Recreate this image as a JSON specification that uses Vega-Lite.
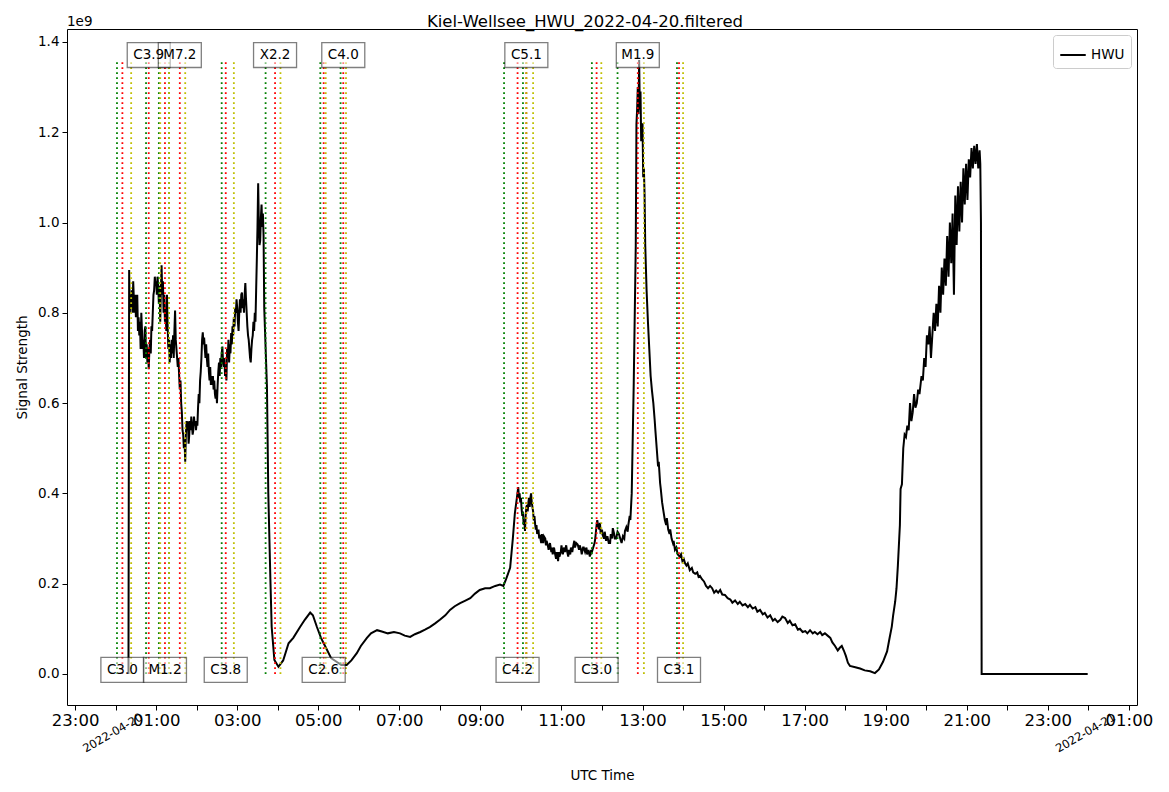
{
  "$schema": "https://vega.github.io/schema/vega-lite/v6.json",
  "width": 1070,
  "height": 676,
  "autosize": {"type": "none"},
  "padding": {"left": 67, "top": 29, "right": 32, "bottom": 87},
  "background": "white",
  "config": {
    "font": "DejaVu Sans",
    "view": {"stroke": "black", "strokeWidth": 1},
    "axis": {"grid": false, "domain": false, "tickColor": "black", "labelColor": "black", "titleColor": "black", "tickSize": 5, "titleFontWeight": "normal"},
    "legend": {"orient": "top-right", "offset": 6, "strokeColor": "#cccccc", "fillColor": "white", "padding": 6, "cornerRadius": 3, "labelFontSize": 13.5, "labelColor": "black", "symbolType": "stroke", "symbolStrokeWidth": 2, "symbolSize": 650, "title": null}
  },
  "resolve": {"axis": {"x": "independent", "y": "independent"}},
  "datasets": {
    "signal": [
      {"time": "2022-04-20T00:19Z", "value": 0},
      {"time": "2022-04-20T00:20Z", "value": 0.895},
      {"time": "2022-04-20T00:21Z", "value": 0.80},
      {"time": "2022-04-20T00:22Z", "value": 0.84},
      {"time": "2022-04-20T00:23Z", "value": 0.81},
      {"time": "2022-04-20T00:24Z", "value": 0.85},
      {"time": "2022-04-20T00:25Z", "value": 0.80},
      {"time": "2022-04-20T00:26Z", "value": 0.87},
      {"time": "2022-04-20T00:27Z", "value": 0.83},
      {"time": "2022-04-20T00:28Z", "value": 0.80},
      {"time": "2022-04-20T00:29Z", "value": 0.84},
      {"time": "2022-04-20T00:30Z", "value": 0.79},
      {"time": "2022-04-20T00:31Z", "value": 0.82},
      {"time": "2022-04-20T00:32Z", "value": 0.84},
      {"time": "2022-04-20T00:33Z", "value": 0.76},
      {"time": "2022-04-20T00:34Z", "value": 0.79},
      {"time": "2022-04-20T00:35Z", "value": 0.75},
      {"time": "2022-04-20T00:36Z", "value": 0.78},
      {"time": "2022-04-20T00:37Z", "value": 0.72},
      {"time": "2022-04-20T00:38Z", "value": 0.80},
      {"time": "2022-04-20T00:39Z", "value": 0.76},
      {"time": "2022-04-20T00:40Z", "value": 0.72},
      {"time": "2022-04-20T00:41Z", "value": 0.74},
      {"time": "2022-04-20T00:42Z", "value": 0.70},
      {"time": "2022-04-20T00:43Z", "value": 0.76},
      {"time": "2022-04-20T00:44Z", "value": 0.77},
      {"time": "2022-04-20T00:45Z", "value": 0.70},
      {"time": "2022-04-20T00:46Z", "value": 0.73},
      {"time": "2022-04-20T00:47Z", "value": 0.69},
      {"time": "2022-04-20T00:48Z", "value": 0.72},
      {"time": "2022-04-20T00:49Z", "value": 0.675},
      {"time": "2022-04-20T00:50Z", "value": 0.72},
      {"time": "2022-04-20T00:51Z", "value": 0.74},
      {"time": "2022-04-20T00:52Z", "value": 0.71},
      {"time": "2022-04-20T00:53Z", "value": 0.77},
      {"time": "2022-04-20T00:54Z", "value": 0.76},
      {"time": "2022-04-20T00:55Z", "value": 0.80},
      {"time": "2022-04-20T00:56Z", "value": 0.84},
      {"time": "2022-04-20T00:57Z", "value": 0.85},
      {"time": "2022-04-20T00:58Z", "value": 0.88},
      {"time": "2022-04-20T00:59Z", "value": 0.86},
      {"time": "2022-04-20T01:00Z", "value": 0.87},
      {"time": "2022-04-20T01:01Z", "value": 0.84},
      {"time": "2022-04-20T01:02Z", "value": 0.88},
      {"time": "2022-04-20T01:03Z", "value": 0.86},
      {"time": "2022-04-20T01:04Z", "value": 0.82},
      {"time": "2022-04-20T01:05Z", "value": 0.86},
      {"time": "2022-04-20T01:06Z", "value": 0.78},
      {"time": "2022-04-20T01:07Z", "value": 0.85},
      {"time": "2022-04-20T01:08Z", "value": 0.905},
      {"time": "2022-04-20T01:09Z", "value": 0.84},
      {"time": "2022-04-20T01:10Z", "value": 0.87},
      {"time": "2022-04-20T01:11Z", "value": 0.80},
      {"time": "2022-04-20T01:12Z", "value": 0.84},
      {"time": "2022-04-20T01:13Z", "value": 0.78},
      {"time": "2022-04-20T01:14Z", "value": 0.81},
      {"time": "2022-04-20T01:15Z", "value": 0.76},
      {"time": "2022-04-20T01:16Z", "value": 0.84},
      {"time": "2022-04-20T01:17Z", "value": 0.77},
      {"time": "2022-04-20T01:18Z", "value": 0.72},
      {"time": "2022-04-20T01:19Z", "value": 0.74},
      {"time": "2022-04-20T01:20Z", "value": 0.69},
      {"time": "2022-04-20T01:21Z", "value": 0.73},
      {"time": "2022-04-20T01:22Z", "value": 0.70},
      {"time": "2022-04-20T01:23Z", "value": 0.74},
      {"time": "2022-04-20T01:24Z", "value": 0.71},
      {"time": "2022-04-20T01:25Z", "value": 0.75},
      {"time": "2022-04-20T01:26Z", "value": 0.70},
      {"time": "2022-04-20T01:27Z", "value": 0.76},
      {"time": "2022-04-20T01:28Z", "value": 0.805},
      {"time": "2022-04-20T01:29Z", "value": 0.74},
      {"time": "2022-04-20T01:30Z", "value": 0.72},
      {"time": "2022-04-20T01:31Z", "value": 0.70},
      {"time": "2022-04-20T01:32Z", "value": 0.68},
      {"time": "2022-04-20T01:33Z", "value": 0.70},
      {"time": "2022-04-20T01:34Z", "value": 0.66},
      {"time": "2022-04-20T01:35Z", "value": 0.63},
      {"time": "2022-04-20T01:36Z", "value": 0.65},
      {"time": "2022-04-20T01:37Z", "value": 0.60},
      {"time": "2022-04-20T01:38Z", "value": 0.58},
      {"time": "2022-04-20T01:39Z", "value": 0.54},
      {"time": "2022-04-20T01:40Z", "value": 0.53},
      {"time": "2022-04-20T01:41Z", "value": 0.50},
      {"time": "2022-04-20T01:42Z", "value": 0.52},
      {"time": "2022-04-20T01:43Z", "value": 0.47},
      {"time": "2022-04-20T01:44Z", "value": 0.53},
      {"time": "2022-04-20T01:45Z", "value": 0.56},
      {"time": "2022-04-20T01:46Z", "value": 0.54},
      {"time": "2022-04-20T01:47Z", "value": 0.56},
      {"time": "2022-04-20T01:48Z", "value": 0.51},
      {"time": "2022-04-20T01:49Z", "value": 0.53},
      {"time": "2022-04-20T01:50Z", "value": 0.56},
      {"time": "2022-04-20T01:51Z", "value": 0.54},
      {"time": "2022-04-20T01:52Z", "value": 0.57},
      {"time": "2022-04-20T01:53Z", "value": 0.55},
      {"time": "2022-04-20T01:54Z", "value": 0.53},
      {"time": "2022-04-20T01:55Z", "value": 0.54},
      {"time": "2022-04-20T01:56Z", "value": 0.57},
      {"time": "2022-04-20T01:57Z", "value": 0.55},
      {"time": "2022-04-20T01:58Z", "value": 0.56},
      {"time": "2022-04-20T01:59Z", "value": 0.54},
      {"time": "2022-04-20T02:00Z", "value": 0.56},
      {"time": "2022-04-20T02:01Z", "value": 0.55},
      {"time": "2022-04-20T02:02Z", "value": 0.59},
      {"time": "2022-04-20T02:03Z", "value": 0.62},
      {"time": "2022-04-20T02:04Z", "value": 0.60},
      {"time": "2022-04-20T02:05Z", "value": 0.65},
      {"time": "2022-04-20T02:06Z", "value": 0.67},
      {"time": "2022-04-20T02:07Z", "value": 0.70},
      {"time": "2022-04-20T02:08Z", "value": 0.74},
      {"time": "2022-04-20T02:09Z", "value": 0.757},
      {"time": "2022-04-20T02:10Z", "value": 0.73},
      {"time": "2022-04-20T02:11Z", "value": 0.745},
      {"time": "2022-04-20T02:12Z", "value": 0.72},
      {"time": "2022-04-20T02:13Z", "value": 0.70},
      {"time": "2022-04-20T02:14Z", "value": 0.73},
      {"time": "2022-04-20T02:15Z", "value": 0.70},
      {"time": "2022-04-20T02:16Z", "value": 0.68},
      {"time": "2022-04-20T02:17Z", "value": 0.71},
      {"time": "2022-04-20T02:18Z", "value": 0.67},
      {"time": "2022-04-20T02:19Z", "value": 0.65},
      {"time": "2022-04-20T02:20Z", "value": 0.68},
      {"time": "2022-04-20T02:21Z", "value": 0.64},
      {"time": "2022-04-20T02:22Z", "value": 0.66},
      {"time": "2022-04-20T02:23Z", "value": 0.64},
      {"time": "2022-04-20T02:24Z", "value": 0.66},
      {"time": "2022-04-20T02:25Z", "value": 0.63},
      {"time": "2022-04-20T02:26Z", "value": 0.65},
      {"time": "2022-04-20T02:27Z", "value": 0.62},
      {"time": "2022-04-20T02:28Z", "value": 0.61},
      {"time": "2022-04-20T02:29Z", "value": 0.63},
      {"time": "2022-04-20T02:30Z", "value": 0.60},
      {"time": "2022-04-20T02:31Z", "value": 0.64},
      {"time": "2022-04-20T02:32Z", "value": 0.67},
      {"time": "2022-04-20T02:33Z", "value": 0.69},
      {"time": "2022-04-20T02:34Z", "value": 0.66},
      {"time": "2022-04-20T02:35Z", "value": 0.70},
      {"time": "2022-04-20T02:36Z", "value": 0.68},
      {"time": "2022-04-20T02:37Z", "value": 0.71},
      {"time": "2022-04-20T02:38Z", "value": 0.725},
      {"time": "2022-04-20T02:39Z", "value": 0.69},
      {"time": "2022-04-20T02:40Z", "value": 0.68},
      {"time": "2022-04-20T02:41Z", "value": 0.70},
      {"time": "2022-04-20T02:42Z", "value": 0.66},
      {"time": "2022-04-20T02:43Z", "value": 0.68},
      {"time": "2022-04-20T02:44Z", "value": 0.65},
      {"time": "2022-04-20T02:45Z", "value": 0.72},
      {"time": "2022-04-20T02:46Z", "value": 0.70},
      {"time": "2022-04-20T02:47Z", "value": 0.74},
      {"time": "2022-04-20T02:48Z", "value": 0.69},
      {"time": "2022-04-20T02:49Z", "value": 0.73},
      {"time": "2022-04-20T02:50Z", "value": 0.71},
      {"time": "2022-04-20T02:51Z", "value": 0.755},
      {"time": "2022-04-20T02:52Z", "value": 0.73},
      {"time": "2022-04-20T02:53Z", "value": 0.77},
      {"time": "2022-04-20T02:54Z", "value": 0.75},
      {"time": "2022-04-20T02:55Z", "value": 0.79},
      {"time": "2022-04-20T02:56Z", "value": 0.77},
      {"time": "2022-04-20T02:57Z", "value": 0.81},
      {"time": "2022-04-20T02:58Z", "value": 0.80},
      {"time": "2022-04-20T02:59Z", "value": 0.83},
      {"time": "2022-04-20T03:00Z", "value": 0.81},
      {"time": "2022-04-20T03:01Z", "value": 0.78},
      {"time": "2022-04-20T03:02Z", "value": 0.76},
      {"time": "2022-04-20T03:03Z", "value": 0.80},
      {"time": "2022-04-20T03:04Z", "value": 0.83},
      {"time": "2022-04-20T03:05Z", "value": 0.80},
      {"time": "2022-04-20T03:06Z", "value": 0.84},
      {"time": "2022-04-20T03:07Z", "value": 0.845},
      {"time": "2022-04-20T03:08Z", "value": 0.81},
      {"time": "2022-04-20T03:09Z", "value": 0.83},
      {"time": "2022-04-20T03:10Z", "value": 0.80},
      {"time": "2022-04-20T03:11Z", "value": 0.84},
      {"time": "2022-04-20T03:12Z", "value": 0.866},
      {"time": "2022-04-20T03:13Z", "value": 0.83},
      {"time": "2022-04-20T03:14Z", "value": 0.80},
      {"time": "2022-04-20T03:15Z", "value": 0.77},
      {"time": "2022-04-20T03:16Z", "value": 0.75},
      {"time": "2022-04-20T03:17Z", "value": 0.74},
      {"time": "2022-04-20T03:18Z", "value": 0.72},
      {"time": "2022-04-20T03:19Z", "value": 0.70},
      {"time": "2022-04-20T03:20Z", "value": 0.69},
      {"time": "2022-04-20T03:21Z", "value": 0.72},
      {"time": "2022-04-20T03:22Z", "value": 0.74},
      {"time": "2022-04-20T03:23Z", "value": 0.75},
      {"time": "2022-04-20T03:24Z", "value": 0.78},
      {"time": "2022-04-20T03:25Z", "value": 0.76},
      {"time": "2022-04-20T03:26Z", "value": 0.80},
      {"time": "2022-04-20T03:27Z", "value": 0.78},
      {"time": "2022-04-20T03:28Z", "value": 0.85},
      {"time": "2022-04-20T03:29Z", "value": 0.917},
      {"time": "2022-04-20T03:30Z", "value": 0.99},
      {"time": "2022-04-20T03:31Z", "value": 1.087},
      {"time": "2022-04-20T03:32Z", "value": 1.00},
      {"time": "2022-04-20T03:33Z", "value": 0.95},
      {"time": "2022-04-20T03:34Z", "value": 0.96},
      {"time": "2022-04-20T03:35Z", "value": 1.01},
      {"time": "2022-04-20T03:36Z", "value": 1.04},
      {"time": "2022-04-20T03:37Z", "value": 0.99},
      {"time": "2022-04-20T03:38Z", "value": 1.02},
      {"time": "2022-04-20T03:39Z", "value": 0.97},
      {"time": "2022-04-20T03:40Z", "value": 0.81},
      {"time": "2022-04-20T03:44Z", "value": 0.636},
      {"time": "2022-04-20T03:46Z", "value": 0.40},
      {"time": "2022-04-20T03:49Z", "value": 0.215},
      {"time": "2022-04-20T03:51Z", "value": 0.104},
      {"time": "2022-04-20T03:55Z", "value": 0.031},
      {"time": "2022-04-20T04:01Z", "value": 0.016},
      {"time": "2022-04-20T04:08Z", "value": 0.03},
      {"time": "2022-04-20T04:16Z", "value": 0.068},
      {"time": "2022-04-20T04:23Z", "value": 0.08},
      {"time": "2022-04-20T04:33Z", "value": 0.104},
      {"time": "2022-04-20T04:40Z", "value": 0.12},
      {"time": "2022-04-20T04:48Z", "value": 0.136},
      {"time": "2022-04-20T04:52Z", "value": 0.13},
      {"time": "2022-04-20T04:58Z", "value": 0.104},
      {"time": "2022-04-20T05:04Z", "value": 0.08},
      {"time": "2022-04-20T05:13Z", "value": 0.053},
      {"time": "2022-04-20T05:19Z", "value": 0.035},
      {"time": "2022-04-20T05:27Z", "value": 0.027},
      {"time": "2022-04-20T05:34Z", "value": 0.02},
      {"time": "2022-04-20T05:42Z", "value": 0.02},
      {"time": "2022-04-20T05:49Z", "value": 0.03},
      {"time": "2022-04-20T05:57Z", "value": 0.046},
      {"time": "2022-04-20T06:03Z", "value": 0.062},
      {"time": "2022-04-20T06:12Z", "value": 0.08},
      {"time": "2022-04-20T06:18Z", "value": 0.09},
      {"time": "2022-04-20T06:27Z", "value": 0.097},
      {"time": "2022-04-20T06:34Z", "value": 0.094},
      {"time": "2022-04-20T06:43Z", "value": 0.09},
      {"time": "2022-04-20T06:52Z", "value": 0.093},
      {"time": "2022-04-20T07:01Z", "value": 0.09},
      {"time": "2022-04-20T07:08Z", "value": 0.085},
      {"time": "2022-04-20T07:16Z", "value": 0.082},
      {"time": "2022-04-20T07:23Z", "value": 0.088},
      {"time": "2022-04-20T07:31Z", "value": 0.093},
      {"time": "2022-04-20T07:38Z", "value": 0.098},
      {"time": "2022-04-20T07:45Z", "value": 0.104},
      {"time": "2022-04-20T07:53Z", "value": 0.112},
      {"time": "2022-04-20T08:00Z", "value": 0.12},
      {"time": "2022-04-20T08:08Z", "value": 0.13},
      {"time": "2022-04-20T08:15Z", "value": 0.142},
      {"time": "2022-04-20T08:22Z", "value": 0.15},
      {"time": "2022-04-20T08:30Z", "value": 0.157},
      {"time": "2022-04-20T08:37Z", "value": 0.162},
      {"time": "2022-04-20T08:45Z", "value": 0.168},
      {"time": "2022-04-20T08:52Z", "value": 0.178},
      {"time": "2022-04-20T08:59Z", "value": 0.186},
      {"time": "2022-04-20T09:07Z", "value": 0.19},
      {"time": "2022-04-20T09:14Z", "value": 0.19},
      {"time": "2022-04-20T09:22Z", "value": 0.195},
      {"time": "2022-04-20T09:29Z", "value": 0.198},
      {"time": "2022-04-20T09:34Z", "value": 0.195},
      {"time": "2022-04-20T09:38Z", "value": 0.21},
      {"time": "2022-04-20T09:44Z", "value": 0.235},
      {"time": "2022-04-20T09:48Z", "value": 0.30},
      {"time": "2022-04-20T09:51Z", "value": 0.356},
      {"time": "2022-04-20T09:54Z", "value": 0.39},
      {"time": "2022-04-20T09:56Z", "value": 0.414},
      {"time": "2022-04-20T09:57Z", "value": 0.39},
      {"time": "2022-04-20T09:58Z", "value": 0.40},
      {"time": "2022-04-20T09:59Z", "value": 0.38},
      {"time": "2022-04-20T10:00Z", "value": 0.39},
      {"time": "2022-04-20T10:01Z", "value": 0.365},
      {"time": "2022-04-20T10:02Z", "value": 0.35},
      {"time": "2022-04-20T10:03Z", "value": 0.36},
      {"time": "2022-04-20T10:04Z", "value": 0.33},
      {"time": "2022-04-20T10:05Z", "value": 0.34},
      {"time": "2022-04-20T10:06Z", "value": 0.317},
      {"time": "2022-04-20T10:07Z", "value": 0.35},
      {"time": "2022-04-20T10:08Z", "value": 0.37},
      {"time": "2022-04-20T10:09Z", "value": 0.374},
      {"time": "2022-04-20T10:10Z", "value": 0.36},
      {"time": "2022-04-20T10:11Z", "value": 0.38},
      {"time": "2022-04-20T10:12Z", "value": 0.39},
      {"time": "2022-04-20T10:13Z", "value": 0.37},
      {"time": "2022-04-20T10:14Z", "value": 0.39},
      {"time": "2022-04-20T10:15Z", "value": 0.40},
      {"time": "2022-04-20T10:16Z", "value": 0.38},
      {"time": "2022-04-20T10:17Z", "value": 0.37},
      {"time": "2022-04-20T10:18Z", "value": 0.36},
      {"time": "2022-04-20T10:19Z", "value": 0.34},
      {"time": "2022-04-20T10:20Z", "value": 0.35},
      {"time": "2022-04-20T10:21Z", "value": 0.332},
      {"time": "2022-04-20T10:22Z", "value": 0.32},
      {"time": "2022-04-20T10:23Z", "value": 0.33},
      {"time": "2022-04-20T10:24Z", "value": 0.31},
      {"time": "2022-04-20T10:26Z", "value": 0.32},
      {"time": "2022-04-20T10:27Z", "value": 0.30},
      {"time": "2022-04-20T10:28Z", "value": 0.308},
      {"time": "2022-04-20T10:30Z", "value": 0.29},
      {"time": "2022-04-20T10:31Z", "value": 0.31},
      {"time": "2022-04-20T10:33Z", "value": 0.29},
      {"time": "2022-04-20T10:34Z", "value": 0.305},
      {"time": "2022-04-20T10:36Z", "value": 0.30},
      {"time": "2022-04-20T10:37Z", "value": 0.285},
      {"time": "2022-04-20T10:38Z", "value": 0.295},
      {"time": "2022-04-20T10:40Z", "value": 0.283},
      {"time": "2022-04-20T10:41Z", "value": 0.275},
      {"time": "2022-04-20T10:43Z", "value": 0.29},
      {"time": "2022-04-20T10:45Z", "value": 0.27},
      {"time": "2022-04-20T10:46Z", "value": 0.28},
      {"time": "2022-04-20T10:47Z", "value": 0.265},
      {"time": "2022-04-20T10:49Z", "value": 0.28},
      {"time": "2022-04-20T10:50Z", "value": 0.27},
      {"time": "2022-04-20T10:52Z", "value": 0.255},
      {"time": "2022-04-20T10:53Z", "value": 0.27},
      {"time": "2022-04-20T10:55Z", "value": 0.25},
      {"time": "2022-04-20T10:56Z", "value": 0.27},
      {"time": "2022-04-20T10:57Z", "value": 0.26},
      {"time": "2022-04-20T10:59Z", "value": 0.27},
      {"time": "2022-04-20T11:00Z", "value": 0.285},
      {"time": "2022-04-20T11:02Z", "value": 0.265},
      {"time": "2022-04-20T11:04Z", "value": 0.28},
      {"time": "2022-04-20T11:05Z", "value": 0.27},
      {"time": "2022-04-20T11:07Z", "value": 0.285},
      {"time": "2022-04-20T11:08Z", "value": 0.274},
      {"time": "2022-04-20T11:10Z", "value": 0.26},
      {"time": "2022-04-20T11:11Z", "value": 0.275},
      {"time": "2022-04-20T11:13Z", "value": 0.265},
      {"time": "2022-04-20T11:14Z", "value": 0.28},
      {"time": "2022-04-20T11:16Z", "value": 0.27},
      {"time": "2022-04-20T11:17Z", "value": 0.28},
      {"time": "2022-04-20T11:19Z", "value": 0.295},
      {"time": "2022-04-20T11:20Z", "value": 0.28},
      {"time": "2022-04-20T11:22Z", "value": 0.29},
      {"time": "2022-04-20T11:24Z", "value": 0.287},
      {"time": "2022-04-20T11:26Z", "value": 0.275},
      {"time": "2022-04-20T11:27Z", "value": 0.285},
      {"time": "2022-04-20T11:29Z", "value": 0.275},
      {"time": "2022-04-20T11:30Z", "value": 0.265},
      {"time": "2022-04-20T11:32Z", "value": 0.28},
      {"time": "2022-04-20T11:33Z", "value": 0.28},
      {"time": "2022-04-20T11:35Z", "value": 0.27},
      {"time": "2022-04-20T11:37Z", "value": 0.28},
      {"time": "2022-04-20T11:38Z", "value": 0.265},
      {"time": "2022-04-20T11:40Z", "value": 0.275},
      {"time": "2022-04-20T11:42Z", "value": 0.26},
      {"time": "2022-04-20T11:44Z", "value": 0.275},
      {"time": "2022-04-20T11:45Z", "value": 0.27},
      {"time": "2022-04-20T11:47Z", "value": 0.28},
      {"time": "2022-04-20T11:49Z", "value": 0.29},
      {"time": "2022-04-20T11:50Z", "value": 0.30},
      {"time": "2022-04-20T11:52Z", "value": 0.33},
      {"time": "2022-04-20T11:53Z", "value": 0.341},
      {"time": "2022-04-20T11:54Z", "value": 0.33},
      {"time": "2022-04-20T11:56Z", "value": 0.32},
      {"time": "2022-04-20T11:57Z", "value": 0.335},
      {"time": "2022-04-20T11:58Z", "value": 0.31},
      {"time": "2022-04-20T12:00Z", "value": 0.32},
      {"time": "2022-04-20T12:01Z", "value": 0.308},
      {"time": "2022-04-20T12:03Z", "value": 0.30},
      {"time": "2022-04-20T12:04Z", "value": 0.315},
      {"time": "2022-04-20T12:06Z", "value": 0.295},
      {"time": "2022-04-20T12:08Z", "value": 0.305},
      {"time": "2022-04-20T12:10Z", "value": 0.29},
      {"time": "2022-04-20T12:12Z", "value": 0.29},
      {"time": "2022-04-20T12:13Z", "value": 0.31},
      {"time": "2022-04-20T12:15Z", "value": 0.30},
      {"time": "2022-04-20T12:16Z", "value": 0.323},
      {"time": "2022-04-20T12:18Z", "value": 0.31},
      {"time": "2022-04-20T12:19Z", "value": 0.30},
      {"time": "2022-04-20T12:21Z", "value": 0.30},
      {"time": "2022-04-20T12:23Z", "value": 0.315},
      {"time": "2022-04-20T12:25Z", "value": 0.31},
      {"time": "2022-04-20T12:27Z", "value": 0.30},
      {"time": "2022-04-20T12:29Z", "value": 0.29},
      {"time": "2022-04-20T12:31Z", "value": 0.305},
      {"time": "2022-04-20T12:33Z", "value": 0.30},
      {"time": "2022-04-20T12:34Z", "value": 0.317},
      {"time": "2022-04-20T12:36Z", "value": 0.325},
      {"time": "2022-04-20T12:38Z", "value": 0.315},
      {"time": "2022-04-20T12:39Z", "value": 0.33},
      {"time": "2022-04-20T12:41Z", "value": 0.35},
      {"time": "2022-04-20T12:42Z", "value": 0.341},
      {"time": "2022-04-20T12:44Z", "value": 0.40},
      {"time": "2022-04-20T12:47Z", "value": 0.645},
      {"time": "2022-04-20T12:50Z", "value": 0.95},
      {"time": "2022-04-20T12:51Z", "value": 1.218},
      {"time": "2022-04-20T12:52Z", "value": 1.25},
      {"time": "2022-04-20T12:53Z", "value": 1.30},
      {"time": "2022-04-20T12:54Z", "value": 1.24},
      {"time": "2022-04-20T12:55Z", "value": 1.36},
      {"time": "2022-04-20T12:56Z", "value": 1.25},
      {"time": "2022-04-20T12:57Z", "value": 1.29},
      {"time": "2022-04-20T12:58Z", "value": 1.18},
      {"time": "2022-04-20T13:00Z", "value": 1.22},
      {"time": "2022-04-20T13:01Z", "value": 1.10},
      {"time": "2022-04-20T13:02Z", "value": 1.12},
      {"time": "2022-04-20T13:03Z", "value": 1.063},
      {"time": "2022-04-20T13:04Z", "value": 0.95},
      {"time": "2022-04-20T13:06Z", "value": 0.85},
      {"time": "2022-04-20T13:08Z", "value": 0.78},
      {"time": "2022-04-20T13:10Z", "value": 0.72},
      {"time": "2022-04-20T13:12Z", "value": 0.66},
      {"time": "2022-04-20T13:14Z", "value": 0.627},
      {"time": "2022-04-20T13:16Z", "value": 0.60},
      {"time": "2022-04-20T13:18Z", "value": 0.562},
      {"time": "2022-04-20T13:19Z", "value": 0.54},
      {"time": "2022-04-20T13:21Z", "value": 0.50},
      {"time": "2022-04-20T13:23Z", "value": 0.46},
      {"time": "2022-04-20T13:24Z", "value": 0.47},
      {"time": "2022-04-20T13:26Z", "value": 0.423},
      {"time": "2022-04-20T13:27Z", "value": 0.41},
      {"time": "2022-04-20T13:29Z", "value": 0.38},
      {"time": "2022-04-20T13:31Z", "value": 0.36},
      {"time": "2022-04-20T13:33Z", "value": 0.341},
      {"time": "2022-04-20T13:35Z", "value": 0.33},
      {"time": "2022-04-20T13:36Z", "value": 0.345},
      {"time": "2022-04-20T13:38Z", "value": 0.32},
      {"time": "2022-04-20T13:40Z", "value": 0.31},
      {"time": "2022-04-20T13:41Z", "value": 0.32},
      {"time": "2022-04-20T13:43Z", "value": 0.30},
      {"time": "2022-04-20T13:45Z", "value": 0.29},
      {"time": "2022-04-20T13:46Z", "value": 0.295},
      {"time": "2022-04-20T13:48Z", "value": 0.275},
      {"time": "2022-04-20T13:50Z", "value": 0.28},
      {"time": "2022-04-20T13:52Z", "value": 0.265},
      {"time": "2022-04-20T13:55Z", "value": 0.26},
      {"time": "2022-04-20T13:57Z", "value": 0.265},
      {"time": "2022-04-20T13:59Z", "value": 0.25},
      {"time": "2022-04-20T14:01Z", "value": 0.255},
      {"time": "2022-04-20T14:03Z", "value": 0.245},
      {"time": "2022-04-20T14:05Z", "value": 0.24},
      {"time": "2022-04-20T14:07Z", "value": 0.245},
      {"time": "2022-04-20T14:10Z", "value": 0.23},
      {"time": "2022-04-20T14:13Z", "value": 0.235},
      {"time": "2022-04-20T14:15Z", "value": 0.225},
      {"time": "2022-04-20T14:18Z", "value": 0.222},
      {"time": "2022-04-20T14:21Z", "value": 0.225},
      {"time": "2022-04-20T14:23Z", "value": 0.215},
      {"time": "2022-04-20T14:25Z", "value": 0.217},
      {"time": "2022-04-20T14:28Z", "value": 0.21},
      {"time": "2022-04-20T14:31Z", "value": 0.205},
      {"time": "2022-04-20T14:34Z", "value": 0.195},
      {"time": "2022-04-20T14:37Z", "value": 0.19},
      {"time": "2022-04-20T14:40Z", "value": 0.195},
      {"time": "2022-04-20T14:43Z", "value": 0.19},
      {"time": "2022-04-20T14:46Z", "value": 0.18},
      {"time": "2022-04-20T14:49Z", "value": 0.185},
      {"time": "2022-04-20T14:52Z", "value": 0.18},
      {"time": "2022-04-20T14:55Z", "value": 0.186},
      {"time": "2022-04-20T14:58Z", "value": 0.176},
      {"time": "2022-04-20T15:02Z", "value": 0.175},
      {"time": "2022-04-20T15:06Z", "value": 0.168},
      {"time": "2022-04-20T15:10Z", "value": 0.165},
      {"time": "2022-04-20T15:13Z", "value": 0.158},
      {"time": "2022-04-20T15:17Z", "value": 0.163},
      {"time": "2022-04-20T15:21Z", "value": 0.155},
      {"time": "2022-04-20T15:24Z", "value": 0.16},
      {"time": "2022-04-20T15:28Z", "value": 0.152},
      {"time": "2022-04-20T15:32Z", "value": 0.155},
      {"time": "2022-04-20T15:36Z", "value": 0.148},
      {"time": "2022-04-20T15:39Z", "value": 0.153},
      {"time": "2022-04-20T15:43Z", "value": 0.145},
      {"time": "2022-04-20T15:47Z", "value": 0.148},
      {"time": "2022-04-20T15:50Z", "value": 0.138},
      {"time": "2022-04-20T15:54Z", "value": 0.142},
      {"time": "2022-04-20T15:58Z", "value": 0.132},
      {"time": "2022-04-20T16:01Z", "value": 0.135},
      {"time": "2022-04-20T16:05Z", "value": 0.125},
      {"time": "2022-04-20T16:09Z", "value": 0.13},
      {"time": "2022-04-20T16:13Z", "value": 0.118},
      {"time": "2022-04-20T16:16Z", "value": 0.122},
      {"time": "2022-04-20T16:20Z", "value": 0.115},
      {"time": "2022-04-20T16:24Z", "value": 0.12},
      {"time": "2022-04-20T16:27Z", "value": 0.127},
      {"time": "2022-04-20T16:31Z", "value": 0.124},
      {"time": "2022-04-20T16:35Z", "value": 0.113},
      {"time": "2022-04-20T16:38Z", "value": 0.118},
      {"time": "2022-04-20T16:42Z", "value": 0.108},
      {"time": "2022-04-20T16:46Z", "value": 0.11},
      {"time": "2022-04-20T16:50Z", "value": 0.098},
      {"time": "2022-04-20T16:53Z", "value": 0.10},
      {"time": "2022-04-20T16:57Z", "value": 0.093},
      {"time": "2022-04-20T17:01Z", "value": 0.095},
      {"time": "2022-04-20T17:04Z", "value": 0.09},
      {"time": "2022-04-20T17:08Z", "value": 0.097},
      {"time": "2022-04-20T17:12Z", "value": 0.09},
      {"time": "2022-04-20T17:15Z", "value": 0.093},
      {"time": "2022-04-20T17:19Z", "value": 0.088},
      {"time": "2022-04-20T17:23Z", "value": 0.093},
      {"time": "2022-04-20T17:26Z", "value": 0.086},
      {"time": "2022-04-20T17:30Z", "value": 0.09},
      {"time": "2022-04-20T17:34Z", "value": 0.085},
      {"time": "2022-04-20T17:38Z", "value": 0.08},
      {"time": "2022-04-20T17:41Z", "value": 0.07},
      {"time": "2022-04-20T17:45Z", "value": 0.062},
      {"time": "2022-04-20T17:49Z", "value": 0.052},
      {"time": "2022-04-20T17:52Z", "value": 0.058},
      {"time": "2022-04-20T17:55Z", "value": 0.062},
      {"time": "2022-04-20T17:58Z", "value": 0.052},
      {"time": "2022-04-20T18:01Z", "value": 0.04},
      {"time": "2022-04-20T18:04Z", "value": 0.025},
      {"time": "2022-04-20T18:07Z", "value": 0.018},
      {"time": "2022-04-20T18:15Z", "value": 0.015},
      {"time": "2022-04-20T18:22Z", "value": 0.012},
      {"time": "2022-04-20T18:29Z", "value": 0.008},
      {"time": "2022-04-20T18:37Z", "value": 0.006},
      {"time": "2022-04-20T18:44Z", "value": 0.002},
      {"time": "2022-04-20T18:50Z", "value": 0.01},
      {"time": "2022-04-20T18:56Z", "value": 0.027},
      {"time": "2022-04-20T19:02Z", "value": 0.05},
      {"time": "2022-04-20T19:06Z", "value": 0.082},
      {"time": "2022-04-20T19:09Z", "value": 0.105},
      {"time": "2022-04-20T19:11Z", "value": 0.13},
      {"time": "2022-04-20T19:14Z", "value": 0.16},
      {"time": "2022-04-20T19:16Z", "value": 0.19},
      {"time": "2022-04-20T19:18Z", "value": 0.24},
      {"time": "2022-04-20T19:20Z", "value": 0.30},
      {"time": "2022-04-20T19:21Z", "value": 0.33},
      {"time": "2022-04-20T19:22Z", "value": 0.41},
      {"time": "2022-04-20T19:24Z", "value": 0.42},
      {"time": "2022-04-20T19:26Z", "value": 0.50},
      {"time": "2022-04-20T19:28Z", "value": 0.53},
      {"time": "2022-04-20T19:30Z", "value": 0.525},
      {"time": "2022-04-20T19:32Z", "value": 0.55},
      {"time": "2022-04-20T19:34Z", "value": 0.54},
      {"time": "2022-04-20T19:36Z", "value": 0.60},
      {"time": "2022-04-20T19:38Z", "value": 0.56},
      {"time": "2022-04-20T19:40Z", "value": 0.58},
      {"time": "2022-04-20T19:42Z", "value": 0.62},
      {"time": "2022-04-20T19:44Z", "value": 0.59},
      {"time": "2022-04-20T19:46Z", "value": 0.60},
      {"time": "2022-04-20T19:48Z", "value": 0.63},
      {"time": "2022-04-20T19:50Z", "value": 0.62},
      {"time": "2022-04-20T19:53Z", "value": 0.66},
      {"time": "2022-04-20T19:55Z", "value": 0.65},
      {"time": "2022-04-20T19:57Z", "value": 0.70},
      {"time": "2022-04-20T19:59Z", "value": 0.68},
      {"time": "2022-04-20T20:01Z", "value": 0.75},
      {"time": "2022-04-20T20:03Z", "value": 0.73},
      {"time": "2022-04-20T20:05Z", "value": 0.77},
      {"time": "2022-04-20T20:07Z", "value": 0.70},
      {"time": "2022-04-20T20:09Z", "value": 0.75},
      {"time": "2022-04-20T20:11Z", "value": 0.80},
      {"time": "2022-04-20T20:13Z", "value": 0.76},
      {"time": "2022-04-20T20:15Z", "value": 0.82},
      {"time": "2022-04-20T20:17Z", "value": 0.77},
      {"time": "2022-04-20T20:19Z", "value": 0.86},
      {"time": "2022-04-20T20:21Z", "value": 0.80},
      {"time": "2022-04-20T20:23Z", "value": 0.90},
      {"time": "2022-04-20T20:25Z", "value": 0.84},
      {"time": "2022-04-20T20:27Z", "value": 0.92},
      {"time": "2022-04-20T20:29Z", "value": 0.86},
      {"time": "2022-04-20T20:31Z", "value": 0.97},
      {"time": "2022-04-20T20:33Z", "value": 0.88},
      {"time": "2022-04-20T20:35Z", "value": 1.00},
      {"time": "2022-04-20T20:37Z", "value": 0.91},
      {"time": "2022-04-20T20:39Z", "value": 1.02},
      {"time": "2022-04-20T20:41Z", "value": 0.84},
      {"time": "2022-04-20T20:43Z", "value": 1.06},
      {"time": "2022-04-20T20:45Z", "value": 0.95},
      {"time": "2022-04-20T20:47Z", "value": 1.08},
      {"time": "2022-04-20T20:49Z", "value": 0.98},
      {"time": "2022-04-20T20:51Z", "value": 1.09},
      {"time": "2022-04-20T20:53Z", "value": 1.00},
      {"time": "2022-04-20T20:55Z", "value": 1.12},
      {"time": "2022-04-20T20:57Z", "value": 1.04},
      {"time": "2022-04-20T20:59Z", "value": 1.13},
      {"time": "2022-04-20T21:01Z", "value": 1.05},
      {"time": "2022-04-20T21:03Z", "value": 1.14},
      {"time": "2022-04-20T21:05Z", "value": 1.10},
      {"time": "2022-04-20T21:07Z", "value": 1.165},
      {"time": "2022-04-20T21:09Z", "value": 1.12},
      {"time": "2022-04-20T21:11Z", "value": 1.17},
      {"time": "2022-04-20T21:13Z", "value": 1.13},
      {"time": "2022-04-20T21:15Z", "value": 1.174},
      {"time": "2022-04-20T21:17Z", "value": 1.12},
      {"time": "2022-04-20T21:19Z", "value": 1.16},
      {"time": "2022-04-20T21:20Z", "value": 1.13},
      {"time": "2022-04-20T21:21Z", "value": 1.0},
      {"time": "2022-04-20T21:22Z", "value": 0},
      {"time": "2022-04-20T23:59Z", "value": 0}
    ],
    "flares": [
      {"label": "C3.0", "start": "2022-04-20T00:02Z", "peak": "2022-04-20T00:10Z", "end": "2022-04-20T00:23Z", "pos": "bottom"},
      {"label": "C3.9", "start": "2022-04-20T00:45Z", "peak": "2022-04-20T00:49Z", "end": "2022-04-20T01:06Z", "pos": "top"},
      {"label": "M1.2", "start": "2022-04-20T01:04Z", "peak": "2022-04-20T01:13Z", "end": "2022-04-20T01:19Z", "pos": "bottom"},
      {"label": "M7.2", "start": "2022-04-20T01:19Z", "peak": "2022-04-20T01:35Z", "end": "2022-04-20T01:43Z", "pos": "top"},
      {"label": "C3.8", "start": "2022-04-20T02:37Z", "peak": "2022-04-20T02:43Z", "end": "2022-04-20T02:55Z", "pos": "bottom"},
      {"label": "X2.2", "start": "2022-04-20T03:42Z", "peak": "2022-04-20T03:56Z", "end": "2022-04-20T04:04Z", "pos": "top"},
      {"label": "C2.6", "start": "2022-04-20T05:03Z", "peak": "2022-04-20T05:08Z", "end": "2022-04-20T05:11Z", "pos": "bottom"},
      {"label": "C4.0", "start": "2022-04-20T05:33Z", "peak": "2022-04-20T05:37Z", "end": "2022-04-20T05:41Z", "pos": "top"},
      {"label": "C4.2", "start": "2022-04-20T09:35Z", "peak": "2022-04-20T09:55Z", "end": "2022-04-20T10:08Z", "pos": "bottom"},
      {"label": "C5.1", "start": "2022-04-20T10:03Z", "peak": "2022-04-20T10:08Z", "end": "2022-04-20T10:18Z", "pos": "top"},
      {"label": "C3.0", "start": "2022-04-20T11:45Z", "peak": "2022-04-20T11:52Z", "end": "2022-04-20T11:59Z", "pos": "bottom"},
      {"label": "M1.9", "start": "2022-04-20T12:23Z", "peak": "2022-04-20T12:53Z", "end": "2022-04-20T13:02Z", "pos": "top"},
      {"label": "C3.1", "start": "2022-04-20T13:51Z", "peak": "2022-04-20T13:54Z", "end": "2022-04-20T14:00Z", "pos": "bottom"}
    ]
  },
  "layer": [
    {
      "data": {"name": "signal"},
      "mark": {"type": "line", "strokeWidth": 2, "interpolate": "linear"},
      "encoding": {
        "x": {
          "field": "time", "type": "temporal",
          "scale": {"type": "utc", "domain": [1650408480000, 1650503520000], "nice": false},
          "axis": {
            "orient": "bottom",
            "values": [1650409200000, 1650412800000, 1650416400000, 1650420000000, 1650423600000, 1650427200000, 1650430800000, 1650434400000, 1650438000000, 1650441600000, 1650445200000, 1650448800000, 1650452400000, 1650456000000, 1650459600000, 1650463200000, 1650466800000, 1650470400000, 1650474000000, 1650477600000, 1650481200000, 1650484800000, 1650488400000, 1650492000000, 1650495600000, 1650499200000, 1650502800000],
            "labelExpr": "utchours(datum.value) % 2 == 1 ? utcFormat(datum.value, '%H:%M') : ''",
            "labelFontSize": 16.5, "labelPadding": 2, "labelBaseline": "top", "labelFlush": false, "labelOverlap": false,
            "title": "UTC Time", "titleFontSize": 13.5, "titlePadding": 40
          }
        },
        "y": {
          "field": "value", "type": "quantitative",
          "scale": {"domain": [-0.0687, 1.4286], "nice": false, "zero": false},
          "axis": {"orient": "left", "values": [0, 0.2, 0.4, 0.6, 0.8, 1.0, 1.2, 1.4], "format": ".1f", "labelFontSize": 13.5, "labelPadding": 3, "title": "Signal Strength", "titleFontSize": 13.5, "titlePadding": 8}
        },
        "color": {"datum": "HWU", "type": "nominal", "scale": {"range": ["black"]}}
      }
    },
    {
      "data": {"name": "flares"},
      "mark": {"type": "rule", "color": "#008000", "strokeWidth": 1.8, "strokeDash": [1.8, 3.2]},
      "encoding": {
        "x": {
          "field": "start", "type": "temporal",
          "axis": {
            "orient": "bottom", "values": [1650412800000, 1650499200000],
            "labelExpr": "utcFormat(datum.value, '%Y-%m-%d')",
            "ticks": false, "tickSize": 0, "labelAngle": -30, "labelAlign": "center", "labelBaseline": "middle",
            "labelPadding": 28, "labelOffset": -3, "labelFontSize": 11.5, "labelFlush": false, "labelOverlap": false, "title": null
          }
        },
        "y": {"datum": 0, "type": "quantitative", "axis": null},
        "y2": {"datum": 1.36}
      }
    },
    {
      "data": {"name": "flares"},
      "mark": {"type": "rule", "color": "#ff0000", "strokeWidth": 1.8, "strokeDash": [1.8, 3.2]},
      "encoding": {
        "x": {"field": "peak", "type": "temporal", "axis": null},
        "y": {"datum": 0, "type": "quantitative", "axis": null},
        "y2": {"datum": 1.36}
      }
    },
    {
      "data": {"name": "flares"},
      "mark": {"type": "rule", "color": "#bfbf00", "strokeWidth": 1.8, "strokeDash": [1.8, 3.2]},
      "encoding": {
        "x": {"field": "end", "type": "temporal", "axis": null},
        "y": {"datum": 0, "type": "quantitative", "axis": null},
        "y2": {"datum": 1.36}
      }
    },
    {
      "data": {"name": "flares"},
      "transform": [{"filter": "datum.pos == 'top'"}],
      "mark": {"type": "point", "shape": "M-1,-0.58L1,-0.58L1,0.58L-1,0.58Z", "size": 1849, "filled": true, "fill": "white", "fillOpacity": 0.5, "stroke": "black", "strokeOpacity": 0.5, "strokeWidth": 1.3},
      "encoding": {
        "x": {"field": "peak", "type": "temporal", "axis": null},
        "y": {"datum": 1.371, "type": "quantitative", "axis": null}
      }
    },
    {
      "data": {"name": "flares"},
      "transform": [{"filter": "datum.pos == 'top'"}],
      "mark": {"type": "text", "fontSize": 13.5, "color": "black", "align": "center", "baseline": "middle"},
      "encoding": {
        "x": {"field": "peak", "type": "temporal", "axis": null},
        "y": {"datum": 1.371, "type": "quantitative", "axis": null},
        "text": {"field": "label"}
      }
    },
    {
      "data": {"name": "flares"},
      "transform": [{"filter": "datum.pos == 'bottom'"}],
      "mark": {"type": "point", "shape": "M-1,-0.58L1,-0.58L1,0.58L-1,0.58Z", "size": 1849, "filled": true, "fill": "white", "fillOpacity": 0.5, "stroke": "black", "strokeOpacity": 0.5, "strokeWidth": 1.3},
      "encoding": {
        "x": {"field": "peak", "type": "temporal", "axis": null},
        "y": {"datum": 0.009, "type": "quantitative", "axis": null}
      }
    },
    {
      "data": {"name": "flares"},
      "transform": [{"filter": "datum.pos == 'bottom'"}],
      "mark": {"type": "text", "fontSize": 13.5, "color": "black", "align": "center", "baseline": "middle"},
      "encoding": {
        "x": {"field": "peak", "type": "temporal", "axis": null},
        "y": {"datum": 0.009, "type": "quantitative", "axis": null},
        "text": {"field": "label"}
      }
    },
    {
      "data": {"values": [{"unit": "1e9"}]},
      "mark": {"type": "text", "fontSize": 13.5, "color": "black", "align": "left", "baseline": "alphabetic", "dy": -3, "clip": false},
      "encoding": {
        "x": {"datum": 1650408480000, "type": "temporal", "axis": null},
        "y": {"datum": 1.4286, "type": "quantitative", "axis": null},
        "text": {"field": "unit"}
      }
    },
    {
      "data": {"values": [{"title": "Kiel-Wellsee_HWU_2022-04-20.filtered"}]},
      "mark": {"type": "text", "fontSize": 16.5, "color": "black", "align": "center", "baseline": "alphabetic", "dx": -17, "dy": -2, "clip": false},
      "encoding": {
        "x": {"datum": 1650456000000, "type": "temporal", "axis": null},
        "y": {"datum": 1.4286, "type": "quantitative", "axis": null},
        "text": {"field": "title"}
      }
    }
  ]
}
